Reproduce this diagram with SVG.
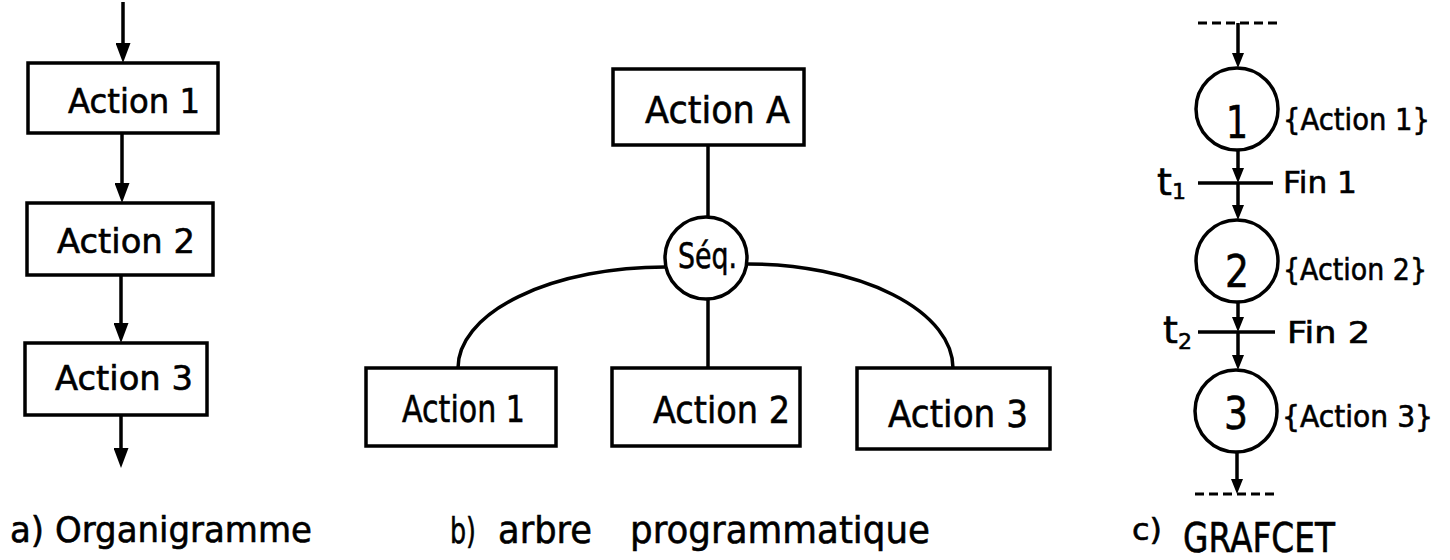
<svg xmlns="http://www.w3.org/2000/svg" width="1450" height="560" viewBox="0 0 1450 560">
  <style>
    .box { fill: #fff; stroke: #000; stroke-width: 3.5; }
    .step { fill: #fff; stroke: #000; stroke-width: 3.5; }
    .wire { fill: none; stroke: #000; stroke-width: 3.5; }
    .dash { fill: none; stroke: #000; stroke-width: 3; stroke-dasharray: 9 5; }
    .lbl { font-family: "DejaVu Sans", "Liberation Sans", sans-serif; fill: #000; stroke: #000; stroke-width: 0.6; }
    .mid { text-anchor: middle; }
  </style>
  <defs>
    <marker id="arrowA" markerUnits="userSpaceOnUse" viewBox="0 0 20 15" refX="11" refY="7.5" markerWidth="20" markerHeight="15" orient="auto">
      <path d="M0,0 L20,7.5 L0,15 z" fill="#000"/>
    </marker>
    <marker id="arrowC" markerUnits="userSpaceOnUse" viewBox="0 0 15 12" refX="7" refY="6" markerWidth="15" markerHeight="12" orient="auto">
      <path d="M0,0 L15,6 L0,12 z" fill="#000"/>
    </marker>
  </defs>

  <rect width="1450" height="560" fill="#fff"/>

  <!-- connectors -->
  <g id="connectors">
    <!-- a) flowchart -->
    <path class="wire" d="M123,2 V54" marker-end="url(#arrowA)"/>
    <path class="wire" d="M122,133 V194" marker-end="url(#arrowA)"/>
    <path class="wire" d="M121,275 V334" marker-end="url(#arrowA)"/>
    <path class="wire" d="M121,415 V459" marker-end="url(#arrowA)"/>
    <!-- b) program tree -->
    <path class="wire" d="M708,145 V217"/>
    <path class="wire" d="M708,299 V368"/>
    <path class="wire" d="M665,267 A207,101 0 0 0 458,368"/>
    <path class="wire" d="M747,264 A206,104 0 0 1 953,368"/>
    <!-- c) GRAFCET -->
    <path class="dash" d="M1198,23 H1278"/>
    <path class="wire" d="M1238,23 V60" marker-end="url(#arrowC)"/>
    <path class="wire" d="M1238,150 V175" marker-end="url(#arrowC)"/>
    <path class="wire" d="M1238,183 V212" marker-end="url(#arrowC)"/>
    <path class="wire" d="M1238,302 V324" marker-end="url(#arrowC)"/>
    <path class="wire" d="M1238,332 V362" marker-end="url(#arrowC)"/>
    <path class="wire" d="M1237,452 V486" marker-end="url(#arrowC)"/>
    <path class="dash" d="M1195,494 H1275"/>
  </g>

  <!-- a) flowchart nodes -->
  <g id="a-action1">
    <rect class="box" x="28" y="63" width="190" height="70"/>
    <text class="lbl" x="68" y="113" font-size="34" textLength="132" lengthAdjust="spacingAndGlyphs">Action 1</text>
  </g>
  <g id="a-action2">
    <rect class="box" x="27" y="203" width="186" height="72"/>
    <text class="lbl" x="57" y="253" font-size="34" textLength="138" lengthAdjust="spacingAndGlyphs">Action 2</text>
  </g>
  <g id="a-action3">
    <rect class="box" x="25" y="343" width="182" height="72"/>
    <text class="lbl" x="55" y="390" font-size="34" textLength="138" lengthAdjust="spacingAndGlyphs">Action 3</text>
  </g>

  <!-- b) program tree nodes -->
  <g id="b-actionA">
    <rect class="box" x="613" y="69" width="191" height="76"/>
    <text class="lbl" x="645" y="123" font-size="38" textLength="145" lengthAdjust="spacingAndGlyphs">Action A</text>
  </g>
  <g id="b-seq">
    <circle class="step" cx="706" cy="258" r="41"/>
    <text class="lbl" x="678" y="268" font-size="36" textLength="59" lengthAdjust="spacingAndGlyphs">Séq.</text>
  </g>
  <g id="b-action1">
    <rect class="box" x="366" y="368" width="190" height="78"/>
    <text class="lbl" x="402" y="422" font-size="38" textLength="123" lengthAdjust="spacingAndGlyphs">Action 1</text>
  </g>
  <g id="b-action2">
    <rect class="box" x="612" y="368" width="188" height="78"/>
    <text class="lbl" x="653" y="423" font-size="38" textLength="137" lengthAdjust="spacingAndGlyphs">Action 2</text>
  </g>
  <g id="b-action3">
    <rect class="box" x="857" y="368" width="193" height="81"/>
    <text class="lbl" x="888" y="427" font-size="38" textLength="140" lengthAdjust="spacingAndGlyphs">Action 3</text>
  </g>

  <!-- c) GRAFCET steps and transitions -->
  <g id="c-step1">
    <circle class="step" cx="1237" cy="109" r="41"/>
    <text class="lbl mid" x="1237" y="138" font-size="44" textLength="22" lengthAdjust="spacingAndGlyphs">1</text>
    <text class="lbl" x="1283" y="130" font-size="30" textLength="147" lengthAdjust="spacingAndGlyphs">{Action 1}</text>
  </g>
  <g id="c-t1">
    <path class="wire" d="M1198,183 H1273"/>
    <text class="lbl" x="1157" y="195" font-size="38">t<tspan font-size="22" dy="4">1</tspan></text>
    <text class="lbl" x="1283" y="193" font-size="30" textLength="74" lengthAdjust="spacingAndGlyphs">Fin 1</text>
  </g>
  <g id="c-step2">
    <circle class="step" cx="1237" cy="261" r="41"/>
    <text class="lbl mid" x="1237" y="287" font-size="44" textLength="24" lengthAdjust="spacingAndGlyphs">2</text>
    <text class="lbl" x="1283" y="280" font-size="30" textLength="144" lengthAdjust="spacingAndGlyphs">{Action 2}</text>
  </g>
  <g id="c-t2">
    <path class="wire" d="M1198,332 H1275"/>
    <text class="lbl" x="1163" y="343" font-size="38">t<tspan font-size="22" dy="6">2</tspan></text>
    <text class="lbl" x="1287" y="343" font-size="30" textLength="83" lengthAdjust="spacingAndGlyphs">Fin 2</text>
  </g>
  <g id="c-step3">
    <circle class="step" cx="1236" cy="411" r="41"/>
    <text class="lbl mid" x="1236" y="429" font-size="44" textLength="24" lengthAdjust="spacingAndGlyphs">3</text>
    <text class="lbl" x="1282" y="427" font-size="30" textLength="151" lengthAdjust="spacingAndGlyphs">{Action 3}</text>
  </g>

  <!-- captions -->
  <g id="captions">
    <text class="lbl" x="10" y="542" font-size="36" textLength="302" lengthAdjust="spacingAndGlyphs">a) Organigramme</text>
    <text class="lbl" x="450" y="543" font-size="36" textLength="26" lengthAdjust="spacingAndGlyphs">b)</text>
    <text class="lbl" x="498" y="543" font-size="38" textLength="94" lengthAdjust="spacingAndGlyphs">arbre</text>
    <text class="lbl" x="630" y="543" font-size="38" textLength="300" lengthAdjust="spacingAndGlyphs">programmatique</text>
    <text class="lbl" x="1132" y="540" font-size="30" textLength="30" lengthAdjust="spacingAndGlyphs">c)</text>
    <text class="lbl" x="1183" y="552" font-size="40" textLength="152" lengthAdjust="spacingAndGlyphs">GRAFCET</text>
  </g>
</svg>
